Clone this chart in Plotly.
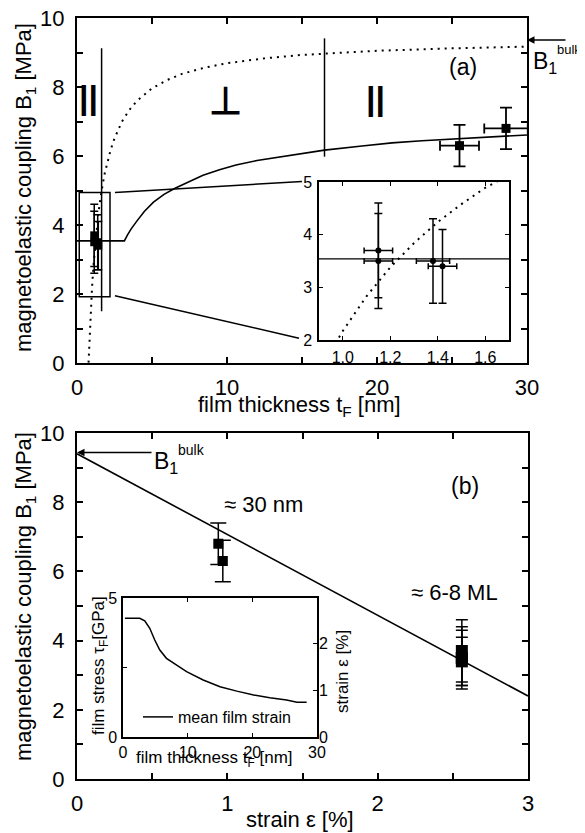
import plotly.graph_objects as go

# ---------------- data ----------------
# ultrathin films (6-8 ML)
thin_t = [1.15, 1.15, 1.38, 1.42]
thin_t_err = [0.06, 0.06, 0.07, 0.06]
thin_B = [3.7, 3.5, 3.5, 3.4]
thin_B_err = [0.9, 0.9, 0.8, 0.7]
thin_strain = [2.56, 2.56, 2.56, 2.56]

# thick films (~30 nm)
thick_t = [25.5, 28.6]
thick_t_err = [1.3, 1.45]
thick_B = [6.3, 6.8]
thick_B_err = [0.6, 0.6]
thick_strain = [0.97, 0.94]

# model curve (solid) in panel (a)
model_t = [0, 3.16, 3.35, 3.6, 4.0, 4.5, 5.1, 5.8, 6.5, 7.5, 8.4, 9.5, 10.6, 12.0, 13.5,
           16.5, 19, 21, 23, 25.5, 28, 30]
model_B = [3.54, 3.54, 3.70, 3.88, 4.12, 4.40, 4.66, 4.89, 5.06, 5.27, 5.44, 5.60, 5.74,
           5.87, 5.97, 6.17, 6.29, 6.38, 6.44, 6.50, 6.56, 6.61]

# dotted curve in panel (a)
dot_t = [0.77, 0.8, 0.85, 0.9, 0.95, 1.0, 1.1, 1.2, 1.3, 1.4, 1.5, 1.6, 1.7, 1.85, 2,
         2.25, 2.5, 3, 3.5, 4, 5, 6, 7, 8.5, 10, 12.5, 15, 20, 25, 30]
dot_B = [0.01, 0.36, 0.89, 1.37, 1.79, 2.17, 2.83, 3.38, 3.84, 4.24, 4.58, 4.89, 5.15,
         5.50, 5.79, 6.19, 6.51, 7.00, 7.34, 7.60, 7.96, 8.20, 8.38, 8.56, 8.69, 8.83,
         8.93, 9.05, 9.12, 9.17]

# linear relation in panel (b)
fit_strain = [0, 3]
fit_B = [9.4, 2.4]

# inset of panel (b): film stress vs thickness
stress_t = [0.3, 2.59, 3.36, 4.14, 4.91, 5.69, 6.72, 8.28, 9.83, 12.4, 15.0, 17.6,
            20.2, 22.7, 25.3, 26.9, 28.4]
stress_GPa = [4.27, 4.27, 4.18, 3.91, 3.49, 3.13, 2.83, 2.59, 2.35, 2.05, 1.81, 1.65,
              1.51, 1.41, 1.33, 1.25, 1.25]

# tick labels
a_xticks = [0, 5, 10, 15, 20, 25, 30]
a_xlabels = ["0", "", "10", "", "20", "", "30"]
B_ticks = [0, 1, 2, 3, 4, 5, 6, 7, 8, 9, 10]
B_labels = ["0", "", "2", "", "4", "", "6", "", "8", "", "10"]
b_xticks = [0, 0.5, 1, 1.5, 2, 2.5, 3]
b_xlabels = ["0", "", "1", "", "2", "", "3"]

# page body has an 8px margin; figure sized to fit the 585x833 window
OFF = 8
W, H = 585 - OFF, 833 - OFF
FONT = "Liberation Sans, Arial, Helvetica, sans-serif"


def px(x):
    """screen x pixel -> paper fraction"""
    return (x - OFF) / W


def py(y):
    """screen y pixel -> paper fraction"""
    return (H - (y - OFF)) / H


fig = go.Figure()

# ---------- panel (a) ----------
fig.add_trace(go.Scatter(x=dot_t, y=dot_B, mode="lines",
                         line=dict(color="black", width=2, dash="2px,5px"),
                         xaxis="x", yaxis="y", showlegend=False))
fig.add_trace(go.Scatter(x=model_t, y=model_B, mode="lines",
                         line=dict(color="black", width=1.6),
                         xaxis="x", yaxis="y", showlegend=False))
fig.add_trace(go.Scatter(x=thin_t, y=thin_B, mode="markers",
                         marker=dict(symbol="square", size=8, color="black"),
                         error_y=dict(type="data", array=thin_B_err, color="black", thickness=1.5, width=4),
                         error_x=dict(type="data", array=thin_t_err, color="black", thickness=1.5, width=3),
                         xaxis="x", yaxis="y", showlegend=False))
fig.add_trace(go.Scatter(x=thick_t, y=thick_B, mode="markers",
                         marker=dict(symbol="square", size=9, color="black"),
                         error_y=dict(type="data", array=thick_B_err, color="black", thickness=1.8, width=6),
                         error_x=dict(type="data", array=thick_t_err, color="black", thickness=1.8, width=5),
                         xaxis="x", yaxis="y", showlegend=False))

# inset of (a)
fig.add_trace(go.Scatter(x=dot_t, y=dot_B, mode="lines",
                         line=dict(color="black", width=2, dash="2px,5px"),
                         xaxis="x2", yaxis="y2", showlegend=False))
fig.add_trace(go.Scatter(x=model_t, y=model_B, mode="lines",
                         line=dict(color="black", width=1.4),
                         xaxis="x2", yaxis="y2", showlegend=False))
fig.add_trace(go.Scatter(x=thin_t, y=thin_B, mode="markers",
                         marker=dict(symbol="circle", size=6, color="black"),
                         error_y=dict(type="data", array=thin_B_err, color="black", thickness=1.5, width=4),
                         error_x=dict(type="data", array=thin_t_err, color="black", thickness=1.5, width=3),
                         xaxis="x2", yaxis="y2", showlegend=False))

# ---------- panel (b) ----------
fig.add_trace(go.Scatter(x=fit_strain, y=fit_B, mode="lines",
                         line=dict(color="black", width=1.6),
                         xaxis="x3", yaxis="y3", showlegend=False))
fig.add_trace(go.Scatter(x=thick_strain, y=thick_B, mode="markers",
                         marker=dict(symbol="square", size=10, color="black"),
                         error_y=dict(type="data", array=thick_B_err, color="black", thickness=1.5, width=8),
                         xaxis="x3", yaxis="y3", showlegend=False))
fig.add_trace(go.Scatter(x=thin_strain, y=thin_B, mode="markers",
                         marker=dict(symbol="square", size=12, color="black"),
                         error_y=dict(type="data", array=thin_B_err, color="black", thickness=1.5, width=6),
                         xaxis="x3", yaxis="y3", showlegend=False))

# inset of (b)
fig.add_trace(go.Scatter(x=stress_t, y=stress_GPa, mode="lines", name="mean film strain",
                         line=dict(color="black", width=1.5),
                         xaxis="x4", yaxis="y4", showlegend=True))
fig.add_trace(go.Scatter(x=[None], y=[None], mode="lines", xaxis="x4", yaxis="y5",
                         showlegend=False, hoverinfo="skip"))

axis_common = dict(showgrid=False, zeroline=False, showline=True, linecolor="black",
                   ticks="inside", tickcolor="black", mirror="ticks", automargin=False,
                   ticklabeloverflow="allow")

main_tick = dict(family=FONT, size=22, color="black")
ins_tick = dict(family=FONT, size=16, color="black")

fig.update_layout(
    template="none",
    width=W, height=H,
    margin=dict(l=0, r=0, t=0, b=0, pad=0),
    paper_bgcolor="white", plot_bgcolor="white",
    font=dict(family=FONT, color="black"),
    xaxis=dict(domain=[px(77), px(527)], anchor="y", range=[0, 30],
               tickvals=a_xticks, ticktext=a_xlabels, tickfont=main_tick,
               linewidth=2, ticklen=6, tickwidth=1.5, ticklabelstandoff=4, **axis_common),
    yaxis=dict(domain=[py(363), py(18)], anchor="x", range=[0, 10],
               tickvals=B_ticks, ticktext=B_labels, tickfont=main_tick,
               linewidth=2, ticklen=6, tickwidth=1.5, ticklabelstandoff=6, **axis_common),
    xaxis2=dict(domain=[px(319), px(509)], anchor="y2", range=[0.9, 1.7],
                tickvals=[1.0, 1.2, 1.4, 1.6], ticktext=["1.0", "1.2", "1.4", "1.6"],
                tickfont=ins_tick, linewidth=1.5, ticklen=4, ticklabelstandoff=2, **axis_common),
    yaxis2=dict(domain=[py(340), py(182)], anchor="x2", range=[2, 5],
                tickvals=[2, 3, 4, 5], ticktext=["2", "3", "4", "5"],
                tickfont=ins_tick, linewidth=1.5, ticklen=4, ticklabelstandoff=2, **axis_common),
    xaxis3=dict(domain=[px(77), px(528)], anchor="y3", range=[0, 3],
                tickvals=b_xticks, ticktext=b_xlabels, tickfont=main_tick,
                linewidth=2, ticklen=6, tickwidth=1.5, ticklabelstandoff=4, **axis_common),
    yaxis3=dict(domain=[py(779), py(433)], anchor="x3", range=[0, 10],
                tickvals=B_ticks, ticktext=B_labels, tickfont=main_tick,
                linewidth=2, ticklen=6, tickwidth=1.5, ticklabelstandoff=6, **axis_common),
    xaxis4=dict(domain=[px(123), px(317)], anchor="y4", range=[0, 30],
                tickvals=[0, 10, 20, 30], ticktext=["0", "10", "20", "30"],
                tickfont=ins_tick, linewidth=1.5, ticklen=4, ticklabelstandoff=0, **axis_common),
    yaxis4=dict(domain=[py(737), py(598)], anchor="x4", range=[0, 5],
                tickvals=[0, 2.5, 5], ticktext=["0", "", "5"],
                showgrid=False, zeroline=False, showline=True, linecolor="black",
                ticks="inside", tickcolor="black", mirror=True, automargin=False,
                ticklabeloverflow="allow",
                tickfont=ins_tick, linewidth=1.5, ticklen=4, ticklabelstandoff=1),
    yaxis5=dict(overlaying="y4", anchor="x4", side="right", range=[0, 2.96],
                tickvals=[0, 1, 2], ticktext=["0", "1", "2"],
                showgrid=False, zeroline=False, showline=False, automargin=False,
                ticklabeloverflow="allow",
                ticks="inside", tickcolor="black", ticklen=4,
                tickfont=ins_tick, ticklabelstandoff=1),
    legend=dict(x=px(138), y=py(717), xanchor="left", yanchor="middle",
                bgcolor="rgba(0,0,0,0)", font=dict(family=FONT, size=16, color="black"),
                itemwidth=30, tracegroupgap=0),
)

# shapes: zoom box, connector lines, phase boundaries
shapes = [
    dict(type="rect", xref="x", yref="y", x0=0.15, x1=2.2, y0=1.92, y1=4.94,
         line=dict(color="black", width=1.5)),
    dict(type="line", xref="x", yref="y", x0=2.53, y0=4.94, x1=15.0, y1=5.26,
         line=dict(color="black", width=1.5)),
    dict(type="line", xref="x", yref="y", x0=2.53, y0=1.95, x1=14.8, y1=0.72,
         line=dict(color="black", width=1.5)),
    dict(type="line", xref="x", yref="y", x0=1.64, y0=1.5, x1=1.64, y1=9.12,
         line=dict(color="black", width=1.5)),
    dict(type="line", xref="x", yref="y", x0=16.5, y0=5.98, x1=16.5, y1=9.41,
         line=dict(color="black", width=1.5)),
]
fig.update_layout(shapes=shapes)


def txt(text, x, y, size, xref="paper", yref="paper", angle=0, **kw):
    return dict(text=text, x=x, y=y, xref=xref, yref=yref, showarrow=False,
                font=dict(family=FONT, size=size, color="black"), textangle=angle,
                xanchor="center", yanchor="middle", **kw)


ann = [
    # axis titles
    txt("magnetoelastic coupling B<sub>1</sub> [MPa]", px(25), py(188), 22, angle=-90),
    txt("film thickness t<sub>F</sub> [nm]", px(300), py(406), 22),
    txt("magnetoelastic coupling B<sub>1</sub> [MPa]", px(25), py(597), 22, angle=-90),
    txt("strain ε [%]", px(300), py(819), 22),
    txt("film thickness t<sub>F</sub> [nm]", px(214), py(759), 17),
    txt("film stress τ<sub>F</sub>[GPa]", px(100), py(665), 17, angle=-90),
    txt("strain ε [%]", px(342), py(672), 17, angle=-90),
    # panel (a) labels
    txt("<b>||</b>", 0.79, 7.7, 34, xref="x", yref="y"),
    txt("<b>⊥</b>", 9.87, 7.6, 38, xref="x", yref="y"),
    txt("<b>||</b>", 19.9, 7.68, 34, xref="x", yref="y"),
    txt("(a)", 25.7, 8.59, 23, xref="x", yref="y"),
    txt("B<sub>1</sub>", px(545), py(63), 23),
    txt("bulk", px(569), py(50), 13),
    # panel (b) labels
    txt("B<sub>1</sub>", px(166), py(462), 23),
    txt("bulk", px(192), py(450), 14),
    txt("≈ 30 nm", 1.24, 7.92, 22, xref="x3", yref="y3"),
    txt("(b)", 2.58, 8.47, 23, xref="x3", yref="y3"),
    txt("≈ 6-8 ML", 2.51, 5.38, 22, xref="x3", yref="y3"),
    # arrows to B1 bulk
    dict(x=30, y=9.36, xref="x", yref="y", ax=40, ay=0, axref="pixel", ayref="pixel",
         text="", showarrow=True, arrowhead=2, arrowsize=1, arrowwidth=1.5, arrowcolor="black"),
    dict(x=0, y=9.44, xref="x3", yref="y3", ax=76, ay=0, axref="pixel", ayref="pixel",
         text="", showarrow=True, arrowhead=2, arrowsize=1, arrowwidth=1.5, arrowcolor="black"),
]
fig.update_layout(annotations=ann)

fig.write_html("out.html")
